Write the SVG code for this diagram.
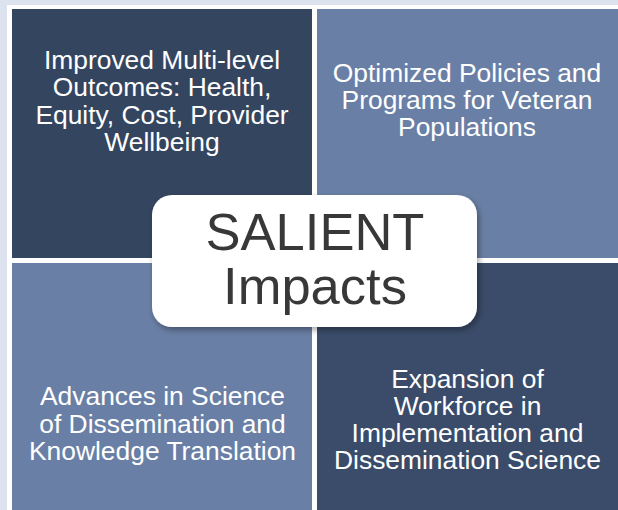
<svg xmlns="http://www.w3.org/2000/svg" width="618" height="510" viewBox="0 0 618 510">
<style>
.q text{font-family:"Liberation Sans",Arial,sans-serif;font-size:26.4px;fill:#ffffff;text-anchor:middle}
.c text{font-family:"Liberation Sans",Arial,sans-serif;font-size:52.5px;fill:#383838;text-anchor:middle}
</style>
<defs>
<filter id="sh" x="-10%" y="-10%" width="125%" height="130%">
<feDropShadow dx="2" dy="3" stdDeviation="3" flood-color="#000" flood-opacity="0.35"/>
</filter>
</defs>
<rect x="0" y="0" width="618" height="510" fill="#dde3ee"/>
<rect x="7" y="5" width="611" height="505" fill="#ffffff"/>
<g id="q1" class="q">
<rect x="12" y="9" width="300" height="249" fill="#344560"/>
<text x="162" y="68.5">Improved Multi-level</text>
<text x="162" y="96">Outcomes: Health,</text>
<text x="162" y="123.5">Equity, Cost, Provider</text>
<text x="162" y="151">Wellbeing</text>
</g>
<g id="q2" class="q">
<rect x="317" y="9" width="301" height="249" fill="#6a7fa5"/>
<text x="467" y="81.5">Optimized Policies and</text>
<text x="467" y="108.5">Programs for Veteran</text>
<text x="467" y="136">Populations</text>
</g>
<g id="q3" class="q">
<rect x="12" y="263" width="300" height="247" fill="#6a7fa5"/>
<text x="162.5" y="405">Advances in Science</text>
<text x="162.5" y="432.5">of Dissemination and</text>
<text x="162.5" y="460">Knowledge Translation</text>
</g>
<g id="q4" class="q">
<rect x="317" y="263" width="301" height="247" fill="#3a4c69"/>
<text x="467.5" y="388">Expansion of</text>
<text x="467.5" y="415">Workforce in</text>
<text x="467.5" y="441.5">Implementation and</text>
<text x="467.5" y="468.5">Dissemination Science</text>
</g>
<g id="connectors"></g>
<g id="center" class="c">
<rect x="152" y="195" width="325" height="132" rx="20" ry="20" fill="#ffffff" filter="url(#sh)"/>
<text x="315" y="250">SALIENT</text>
<text x="315" y="304">Impacts</text>
</g>
</svg>
